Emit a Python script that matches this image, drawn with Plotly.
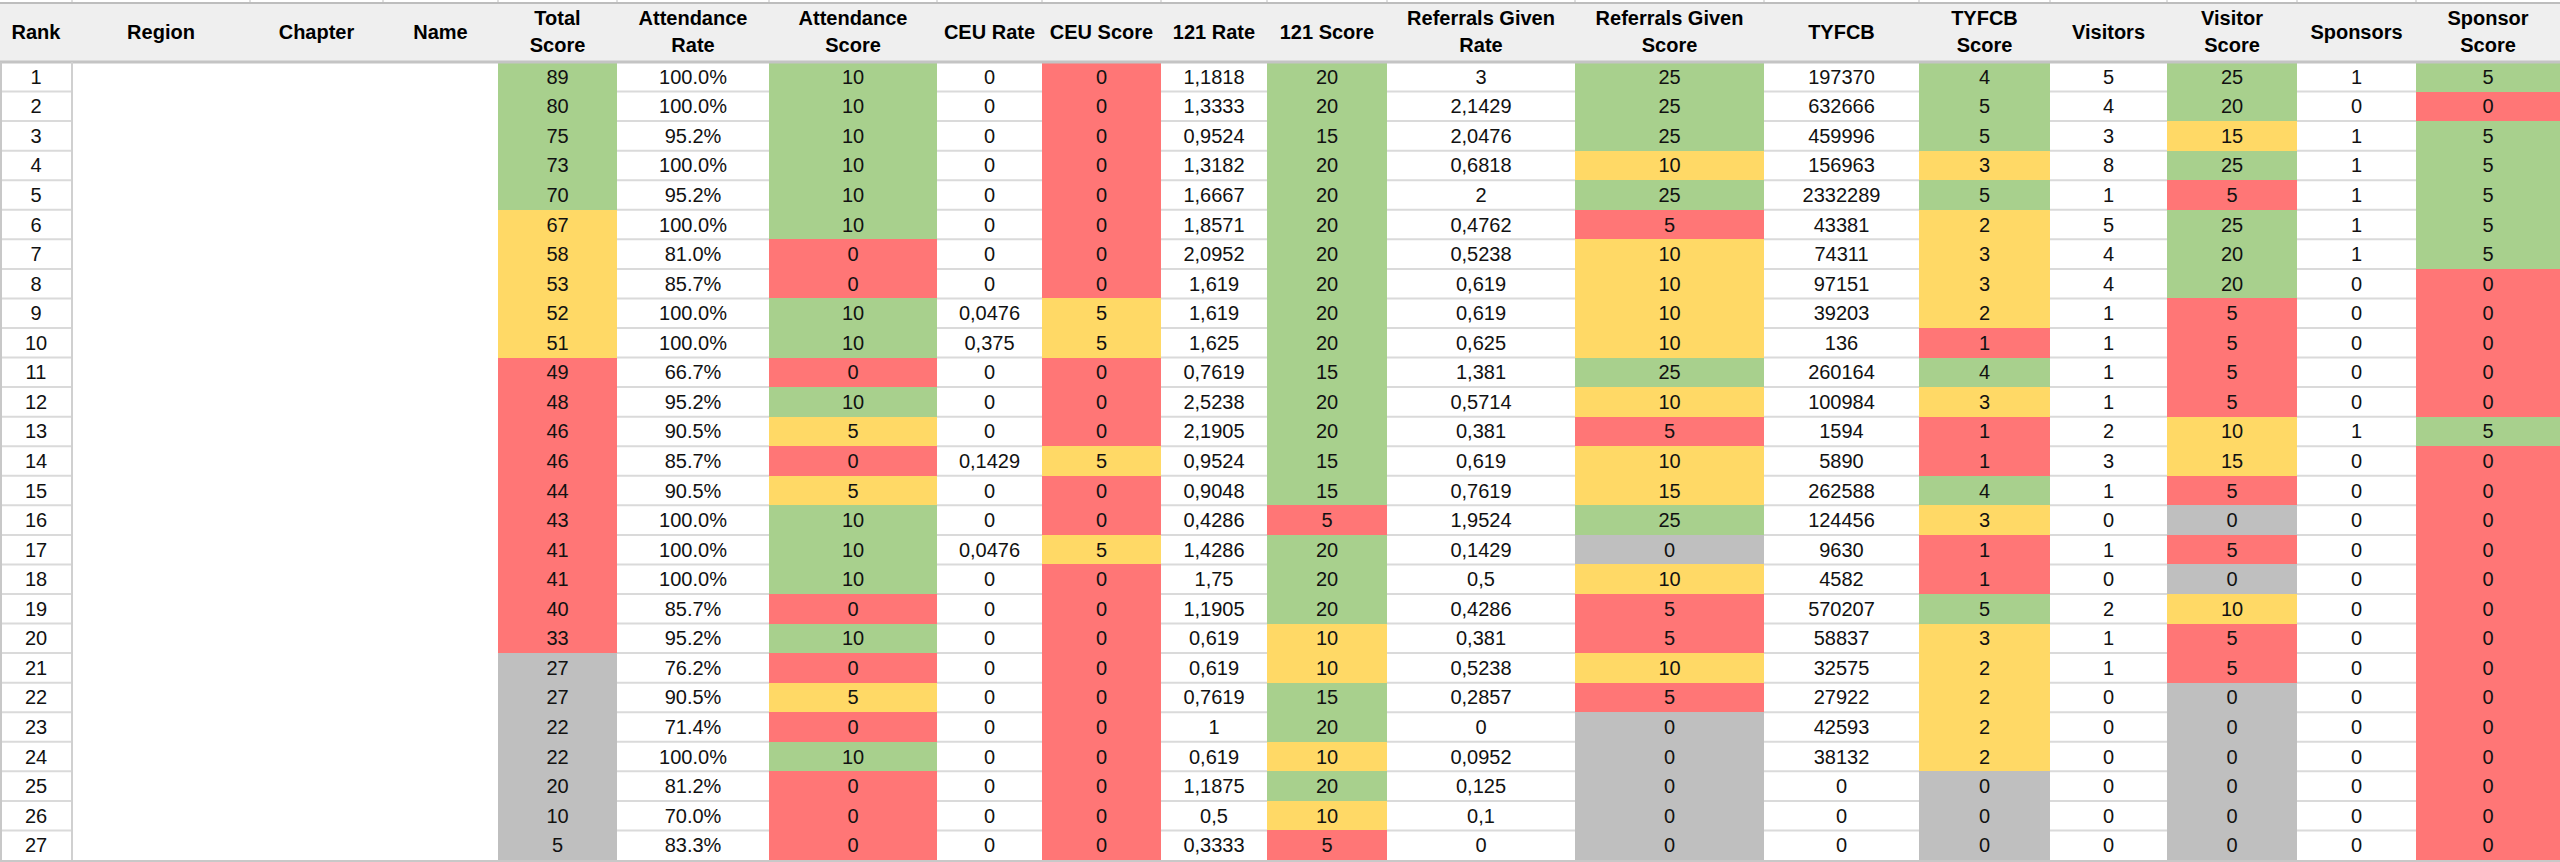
import plotly.graph_objects as go

# --- table values ---------------------------------------------------------
HEADERS = [
    "Rank", "Region", "Chapter", "Name", "Total<br>Score", "Attendance<br>Rate",
    "Attendance<br>Score", "CEU Rate", "CEU Score", "121 Rate", "121 Score",
    "Referrals Given<br>Rate", "Referrals Given<br>Score", "TYFCB", "TYFCB<br>Score",
    "Visitors", "Visitor<br>Score", "Sponsors", "Sponsor<br>Score",
]

rank = [1, 2, 3, 4, 5, 6, 7, 8, 9, 10, 11, 12, 13, 14, 15, 16, 17, 18, 19, 20, 21, 22, 23, 24, 25, 26, 27]
total_score = [89, 80, 75, 73, 70, 67, 58, 53, 52, 51, 49, 48, 46, 46, 44, 43, 41, 41, 40, 33, 27, 27, 22, 22, 20, 10, 5]
attendance_rate = [100.0, 100.0, 95.2, 100.0, 95.2, 100.0, 81.0, 85.7, 100.0, 100.0, 66.7, 95.2, 90.5, 85.7,
                   90.5, 100.0, 100.0, 100.0, 85.7, 95.2, 76.2, 90.5, 71.4, 100.0, 81.2, 70.0, 83.3]
attendance_score = [10, 10, 10, 10, 10, 10, 0, 0, 10, 10, 0, 10, 5, 0, 5, 10, 10, 10, 0, 10, 0, 5, 0, 10, 0, 0, 0]
ceu_rate = [0, 0, 0, 0, 0, 0, 0, 0, 0.0476, 0.375, 0, 0, 0, 0.1429, 0, 0, 0.0476, 0, 0, 0, 0, 0, 0, 0, 0, 0, 0]
ceu_score = [0, 0, 0, 0, 0, 0, 0, 0, 5, 5, 0, 0, 0, 5, 0, 0, 5, 0, 0, 0, 0, 0, 0, 0, 0, 0, 0]
rate_121 = [1.1818, 1.3333, 0.9524, 1.3182, 1.6667, 1.8571, 2.0952, 1.619, 1.619, 1.625, 0.7619, 2.5238, 2.1905,
            0.9524, 0.9048, 0.4286, 1.4286, 1.75, 1.1905, 0.619, 0.619, 0.7619, 1, 0.619, 1.1875, 0.5, 0.3333]
score_121 = [20, 20, 15, 20, 20, 20, 20, 20, 20, 20, 15, 20, 20, 15, 15, 5, 20, 20, 20, 10, 10, 15, 20, 10, 20, 10, 5]
referrals_rate = [3, 2.1429, 2.0476, 0.6818, 2, 0.4762, 0.5238, 0.619, 0.619, 0.625, 1.381, 0.5714, 0.381, 0.619,
                  0.7619, 1.9524, 0.1429, 0.5, 0.4286, 0.381, 0.5238, 0.2857, 0, 0.0952, 0.125, 0.1, 0]
referrals_score = [25, 25, 25, 10, 25, 5, 10, 10, 10, 10, 25, 10, 5, 10, 15, 25, 0, 10, 5, 5, 10, 5, 0, 0, 0, 0, 0]
tyfcb = [197370, 632666, 459996, 156963, 2332289, 43381, 74311, 97151, 39203, 136, 260164, 100984, 1594, 5890,
         262588, 124456, 9630, 4582, 570207, 58837, 32575, 27922, 42593, 38132, 0, 0, 0]
tyfcb_score = [4, 5, 5, 3, 5, 2, 3, 3, 2, 1, 4, 3, 1, 1, 4, 3, 1, 1, 5, 3, 2, 2, 2, 2, 0, 0, 0]
visitors = [5, 4, 3, 8, 1, 5, 4, 4, 1, 1, 1, 1, 2, 3, 1, 0, 1, 0, 2, 1, 1, 0, 0, 0, 0, 0, 0]
visitor_score = [25, 20, 15, 25, 5, 25, 20, 20, 5, 5, 5, 5, 10, 15, 5, 0, 5, 0, 10, 5, 5, 0, 0, 0, 0, 0, 0]
sponsors = [1, 0, 1, 1, 1, 1, 1, 0, 0, 0, 0, 0, 1, 0, 0, 0, 0, 0, 0, 0, 0, 0, 0, 0, 0, 0, 0]
sponsor_score = [5, 0, 5, 5, 5, 5, 5, 0, 0, 0, 0, 0, 5, 0, 0, 0, 0, 0, 0, 0, 0, 0, 0, 0, 0, 0, 0]

# --- look ---------------------------------------------------------------------
FONT = "Liberation Sans, Arial, Helvetica, sans-serif"
GREEN, YELLOW, RED, GREY = "#a8d08d", "#ffd966", "#ff7676", "#bfbfbf"
HEADER_BG, BLANK = "#efefef", "#ffffff"
PALETTE = [HEADER_BG, GREEN, YELLOW, RED, GREY, BLANK]
CODE = {c: i for i, c in enumerate(PALETTE)}

WIDTH, HEIGHT = 2560, 862
X_EDGES = [0, 72, 250, 383, 498, 617, 769, 937, 1042, 1161, 1267, 1387, 1575, 1764,
           1919, 2050, 2167, 2297, 2416, 2560]
HEADER_TOP, HEADER_BOTTOM, TABLE_BOTTOM = 3, 62, 860

# conditional formatting rules: (minimum value, fill)
RULES = {
    "total": [(70, GREEN), (50, YELLOW), (30, RED), (-1, GREY)],
    "attendance": [(10, GREEN), (5, YELLOW), (-1, RED)],
    "ceu": [(10, GREEN), (5, YELLOW), (-1, RED)],
    "121": [(15, GREEN), (10, YELLOW), (-1, RED)],
    "referrals": [(20, GREEN), (10, YELLOW), (5, RED), (-1, GREY)],
    "tyfcb": [(4, GREEN), (2, YELLOW), (1, RED), (-1, GREY)],
    "visitor": [(20, GREEN), (10, YELLOW), (5, RED), (-1, GREY)],
    "sponsor": [(5, GREEN), (-1, RED)],
}


def _fill(rule: str | None, value: float) -> str | None:
    if rule is None:
        return None
    for lower, colour in RULES[rule]:
        if value >= lower:
            return colour
    return None


def _dec(value: float) -> str:
    return f"{value:g}".replace(".", ",")


n_rows = len(rank)
blank = [""] * n_rows
columns = [
    ([str(v) for v in rank], [None] * n_rows),
    (blank, [BLANK] * n_rows),
    (blank, [BLANK] * n_rows),
    (blank, [BLANK] * n_rows),
    ([str(v) for v in total_score], [_fill("total", v) for v in total_score]),
    ([f"{v:.1f}%" for v in attendance_rate], [None] * n_rows),
    ([str(v) for v in attendance_score], [_fill("attendance", v) for v in attendance_score]),
    ([_dec(v) for v in ceu_rate], [None] * n_rows),
    ([str(v) for v in ceu_score], [_fill("ceu", v) for v in ceu_score]),
    ([_dec(v) for v in rate_121], [None] * n_rows),
    ([str(v) for v in score_121], [_fill("121", v) for v in score_121]),
    ([_dec(v) for v in referrals_rate], [None] * n_rows),
    ([str(v) for v in referrals_score], [_fill("referrals", v) for v in referrals_score]),
    ([str(v) for v in tyfcb], [None] * n_rows),
    ([str(v) for v in tyfcb_score], [_fill("tyfcb", v) for v in tyfcb_score]),
    ([str(v) for v in visitors], [None] * n_rows),
    ([str(v) for v in visitor_score], [_fill("visitor", v) for v in visitor_score]),
    ([str(v) for v in sponsors], [None] * n_rows),
    ([str(v) for v in sponsor_score], [_fill("sponsor", v) for v in sponsor_score]),
]

row_h = (TABLE_BOTTOM - HEADER_BOTTOM) / n_rows
y_edges = [HEADER_TOP, HEADER_BOTTOM] + [HEADER_BOTTOM + (i + 1) * row_h for i in range(n_rows)]
x_mid = [(a + b) / 2 for a, b in zip(X_EDGES[:-1], X_EDGES[1:])]
y_mid = [(a + b) / 2 for a, b in zip(y_edges[1:-1], y_edges[2:])]

# heatmap codes: first row is the header band, then one row per member
z = [[CODE[HEADER_BG]] * len(columns)]
for r in range(n_rows):
    z.append([CODE[col[1][r]] if col[1][r] else None for col in columns])

fig = go.Figure()
fig.add_trace(
    go.Heatmap(
        x=X_EDGES,
        y=y_edges,
        z=z,
        zmin=0,
        zmax=len(PALETTE) - 1,
        colorscale=[[i / (len(PALETTE) - 1), c] for i, c in enumerate(PALETTE)],
        showscale=False,
        hoverinfo="skip",
    )
)

body_x, body_y, body_text = [], [], []
for c, (texts, _) in enumerate(columns):
    for r, t in enumerate(texts):
        if t:
            body_x.append(x_mid[c])
            body_y.append(y_mid[r] + 2)
            body_text.append(t)
fig.add_trace(
    go.Scatter(
        x=body_x, y=body_y, text=body_text, mode="text",
        textposition="middle center",
        textfont={"family": FONT, "size": 20, "color": "#111111"},
        hoverinfo="skip", showlegend=False,
    )
)

head_mid = (HEADER_TOP + HEADER_BOTTOM) / 2
head_x, head_y, head_text = [], [], []
for c, label in enumerate(HEADERS):
    lines = label.split("<br>")
    offsets = [0] if len(lines) == 1 else [-13.3, 13.3]
    for line, off in zip(lines, offsets):
        head_x.append(x_mid[c])
        head_y.append(head_mid + off + 1)
        head_text.append(line)
fig.add_trace(
    go.Scatter(
        x=head_x, y=head_y, text=head_text, mode="text",
        textposition="middle center",
        textfont={"family": FONT, "size": 20, "color": "#000000", "weight": "bold"},
        hoverinfo="skip", showlegend=False,
    )
)

# grid lines: row rules sit under the fills, so coloured cells hide them
shapes = []
for y in y_edges[2:-1]:
    shapes.append(dict(type="line", x0=0, x1=WIDTH, y0=y, y1=y, layer="below",
                       line={"color": "#dadada", "width": 2}))
for x in X_EDGES[1:-1]:
    shapes.append(dict(type="line", x0=x, x1=x, y0=0, y1=HEADER_TOP, layer="above",
                       line={"color": "#d4d4d4", "width": 1.5}))
shapes += [
    dict(type="line", x0=0, x1=WIDTH, y0=HEADER_TOP, y1=HEADER_TOP, layer="above",
         line={"color": "#bdbdbd", "width": 2}),
    dict(type="line", x0=0, x1=WIDTH, y0=HEADER_BOTTOM, y1=HEADER_BOTTOM, layer="above",
         line={"color": "#c4c4c4", "width": 3}),
    dict(type="line", x0=0, x1=WIDTH, y0=TABLE_BOTTOM + 1, y1=TABLE_BOTTOM + 1, layer="above",
         line={"color": "#c8c8c8", "width": 2}),
    dict(type="line", x0=1, x1=1, y0=HEADER_BOTTOM, y1=TABLE_BOTTOM, layer="above",
         line={"color": "#c8c8c8", "width": 2}),
    dict(type="line", x0=X_EDGES[1], x1=X_EDGES[1], y0=HEADER_BOTTOM, y1=TABLE_BOTTOM, layer="above",
         line={"color": "#d0d0d0", "width": 2}),
]

fig.update_layout(
    width=WIDTH,
    height=HEIGHT,
    margin={"l": 0, "r": 0, "t": 0, "b": 0},
    paper_bgcolor="#ffffff",
    plot_bgcolor="#ffffff",
    shapes=shapes,
    showlegend=False,
    xaxis={"visible": False, "range": [0, WIDTH], "fixedrange": True},
    yaxis={"visible": False, "range": [HEIGHT, 0], "fixedrange": True},
)

fig.write_html(
    "out.html",
    config={"displayModeBar": False, "staticPlot": True},
    post_script="document.body.style.margin='0';document.body.style.overflow='hidden';",
)
